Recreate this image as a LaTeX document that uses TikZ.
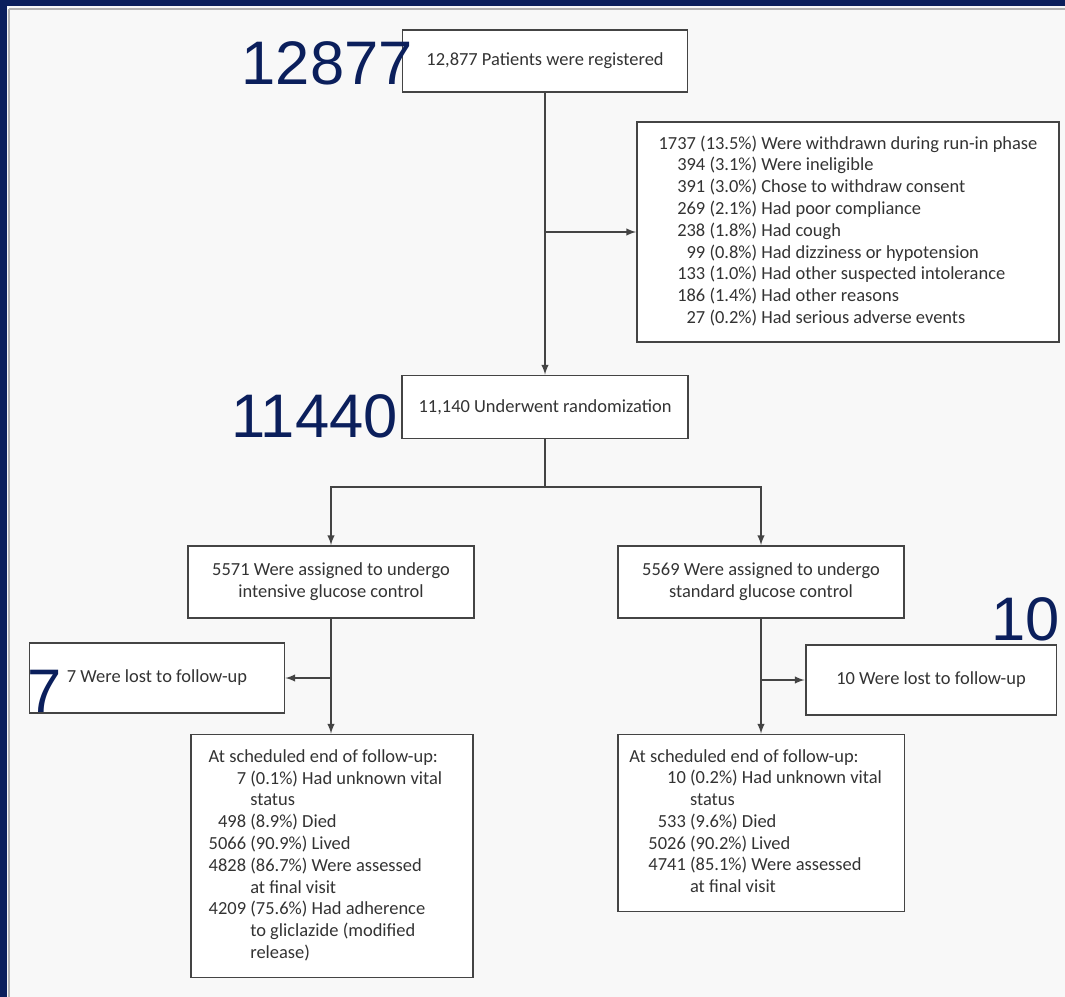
\documentclass[tikz,border=0pt]{standalone}
\usepackage{fontspec}
\usepackage{array}
\setmainfont{Carlito}
\newfontfamily\numfont{Liberation Sans}

\definecolor{navy}{HTML}{0B1F5C}
\definecolor{pagebg}{HTML}{F8F8F8}
\definecolor{boxline}{HTML}{444444}
\definecolor{boxtext}{HTML}{333333}

\begin{document}
\begin{tikzpicture}[x=0.02cm,y=-0.02cm,>=latex,
  box/.style={draw=boxline, line width=1.1pt, fill=white, text=boxtext, inner sep=0pt,
    align=center, font=\fontsize{10.5}{12.4}\selectfont},
  flow/.style={draw=boxline, line width=0.9pt},
  bignum/.style={text=navy, inner sep=0pt, font=\numfont\fontsize{35}{40}\selectfont}]

% Draw the page with its dark frame
\useasboundingbox (0,0) rectangle (1065,997);
\fill [pagebg] (0,0) rectangle (1065,997);
\draw [gray!60, line width=1.5pt] (9,9) -- (1065,9);
\draw [gray!60, line width=1.5pt] (9,9) -- (9,997);
\fill [navy] (0,0) rectangle (1065,6);
\fill [navy] (0,0) rectangle (7,997);

% Draw the boxes of the flow chart
\node [box, minimum width=5.7cm, minimum height=1.24cm] (reg) at (545,61) {12,877 Patients were registered};
\node [box, minimum width=8.44cm, minimum height=4.4cm] (withdraw) at (848,232) {%
  \begin{tabular}{@{}r@{\ }l@{}}
  1737 (13.5\%) & Were withdrawn during run-in phase\\
  394 (3.1\%) & Were ineligible\\
  391 (3.0\%) & Chose to withdraw consent\\
  269 (2.1\%) & Had poor compliance\\
  238 (1.8\%) & Had cough\\
  99 (0.8\%) & Had dizziness or hypotension\\
  133 (1.0\%) & Had other suspected intolerance\\
  186 (1.4\%) & Had other reasons\\
  27 (0.2\%) & Had serious adverse events
  \end{tabular}};
\node [box, minimum width=5.72cm, minimum height=1.26cm] (rand) at (545,407) {11,140 Underwent randomization};
\node [box, minimum width=5.72cm, minimum height=1.44cm] (intensive) at (331,582) {5571 Were assigned to undergo\\intensive glucose control};
\node [box, minimum width=5.72cm, minimum height=1.44cm] (standard) at (761,582) {5569 Were assigned to undergo\\standard glucose control};
\node [box, minimum width=5.1cm, minimum height=1.4cm] (lostL) at (157,678) {7 Were lost to follow-up};
\node [box, minimum width=5.02cm, minimum height=1.4cm] (lostR) at (931,680) {10 Were lost to follow-up};
\node [box, minimum width=5.64cm, minimum height=4.86cm] (endL) at (332,856) {%
  \begin{tabular}{@{}r@{\ }>{\raggedright\arraybackslash}p{4.1cm}@{}}
  \multicolumn{2}{@{}l@{}}{At scheduled end of follow-up:}\\
  7 & (0.1\%) Had unknown vital\newline status\\
  498 & (8.9\%) Died\\
  5066 & (90.9\%) Lived\\
  4828 & (86.7\%) Were assessed\newline at final visit\\
  4209 & (75.6\%) Had adherence\newline to gliclazide (modified\newline release)
  \end{tabular}};
\node [box, minimum width=5.74cm, minimum height=3.54cm] (endR) at (761,823) {%
  \begin{tabular}{@{}>{\hspace{0.38cm}}r@{\ }>{\raggedright\arraybackslash}p{4.05cm}@{}}
  \multicolumn{2}{@{}l@{}}{At scheduled end of follow-up:}\\
  10 & (0.2\%) Had unknown vital\newline status\\
  533 & (9.6\%) Died\\
  5026 & (90.2\%) Lived\\
  4741 & (85.1\%) Were assessed\newline at final visit
  \end{tabular}};

% Draw the connectors
\draw [flow, ->] (reg.south) -- (rand.north);
\draw [flow, ->] (reg.south |- withdraw.west) -- (withdraw.west);
\coordinate (split) at (545,487);
\draw [flow] (rand.south) -- (split);
\draw [flow, ->] (split) -| (intensive.north);
\draw [flow, ->] (split) -| (standard.north);
\draw [flow, ->] (intensive.south) -- (intensive.south |- endL.north);
\draw [flow, ->] (intensive.south |- lostL.east) -- (lostL.east);
\draw [flow, ->] (standard.south) -- (endR.north);
\draw [flow, ->] (standard.south |- lostR.west) -- (lostR.west);

% Draw the large numbers
\node [bignum, anchor=base east] (nreg) at (413,85) {12877};
\node [bignum, anchor=base east] (nrand) at (398,437) {11440};
\node [bignum, anchor=base east] (nlostL) at (62,712) {7};
\node [bignum, anchor=base east] (nlostR) at (1060,640) {10};

\end{tikzpicture}
\end{document}
